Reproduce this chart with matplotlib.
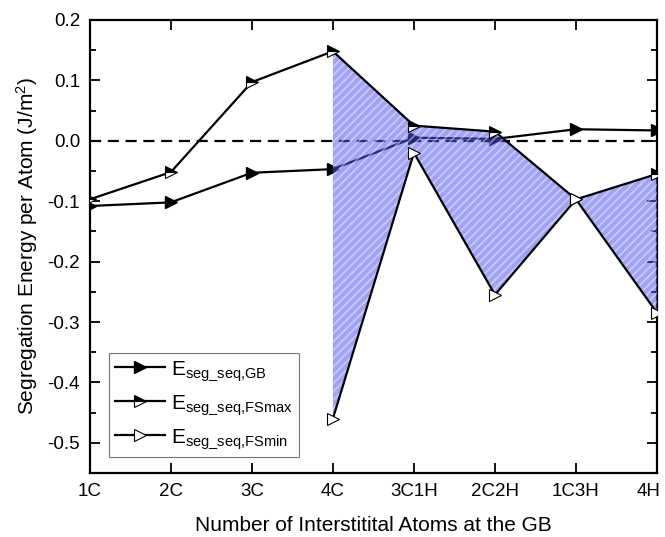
import numpy as np
import matplotlib.pyplot as plt
import matplotlib.transforms as mtransforms

plt.rcParams['font.family'] = ['Liberation Sans', 'DejaVu Sans']
plt.rcParams['mathtext.default'] = 'regular'
plt.rcParams['hatch.linewidth'] = 1.3

# data
labels = ['1C', '2C', '3C', '4C', '3C1H', '2C2H', '1C3H', '4H']
e_gb = [-0.108, -0.102, -0.053, -0.047, 0.005, 0.003, 0.019, 0.017]
e_fsmax = [-0.097, -0.052, 0.097, 0.148, 0.025, 0.015, -0.097, -0.055]
e_fsmin = [np.nan, np.nan, np.nan, -0.460, -0.020, -0.255, -0.097, -0.285]
fill_start = 3  # shaded band starts at 4C

x = np.arange(len(labels))

fig = plt.figure(figsize=(6.65, 5.37), dpi=100)
ax = fig.add_axes([0.135, 0.119, 0.853, 0.844])

ax.axhline(0, color='black', lw=1.6, ls=(0, (5, 3)), zorder=1)

ax.plot(x, e_gb, color='black', lw=1.6, marker='>', ms=9,
        mfc='black', mec='black', zorder=2, label='E$_{seg\\_seq{,}GB}$')

# shaded band between FSmax and FSmin
xs = x[fill_start:]
ymax = np.array(e_fsmax[fill_start:])
ymin = np.array(e_fsmin[fill_start:])
ax.fill_between(xs, ymin, ymax, facecolor=(0.3, 0.3, 0.92), alpha=0.52,
                lw=0, zorder=3)
ax.fill_between(xs, ymin, ymax, facecolor='none', edgecolor=(1, 1, 1, 0.4),
                hatch='////', lw=0, zorder=3)

ax.plot(x, e_fsmax, color='black', lw=1.6, marker='>', ms=9,
        fillstyle='top', mfc='black', mfcalt='white', mec='black',
        mew=0.8, zorder=4, label='E$_{seg\\_seq{,}FSmax}$')
ax.plot(x, e_fsmin, color='black', lw=1.6, marker='>', ms=9,
        mfc='white', mec='black', mew=0.8, zorder=4,
        label='E$_{seg\\_seq{,}FSmin}$')

ax.set_xlim(0, 7)
ax.set_ylim(-0.55, 0.2)
ax.set_xticks(x)
ax.set_xticklabels(labels)
yt = np.arange(-0.5, 0.21, 0.1)
ax.set_yticks(yt)
ax.set_yticks(np.arange(-0.55, 0.2, 0.05), minor=True)
ax.set_yticklabels(['%.1f' % v if abs(v) > 1e-9 else '0.0' for v in yt])
ax.tick_params(which='both', direction='in', top=True, right=True,
               labelsize=13.5, width=1.3)
ax.tick_params(which='major', length=7, pad=7)
ax.tick_params(which='minor', length=4)
ax.tick_params(axis='x', which='minor', top=False, bottom=False)
for s in ax.spines.values():
    s.set_linewidth(1.6)

# keep the last category label inside the figure
last = ax.get_xticklabels()[-1]
last.set_transform(last.get_transform() +
                   mtransforms.ScaledTranslation(-8 / 100, 0, fig.dpi_scale_trans))

ax.set_xlabel('Number of Interstitital Atoms at the GB', fontsize=15,
              labelpad=12)
ax.set_ylabel('Segregation Energy per Atom (J/m$^2$)', fontsize=15,
              labelpad=5)

leg = ax.legend(loc='lower left', bbox_to_anchor=(0.0335, 0.035),
                fontsize=15, fancybox=False, edgecolor='#555555',
                handlelength=2.4, handletextpad=0.3, labelspacing=0.5,
                borderpad=0.3, borderaxespad=0)
leg.get_frame().set_linewidth(0.8)

fig.savefig('out.png', dpi=100)
